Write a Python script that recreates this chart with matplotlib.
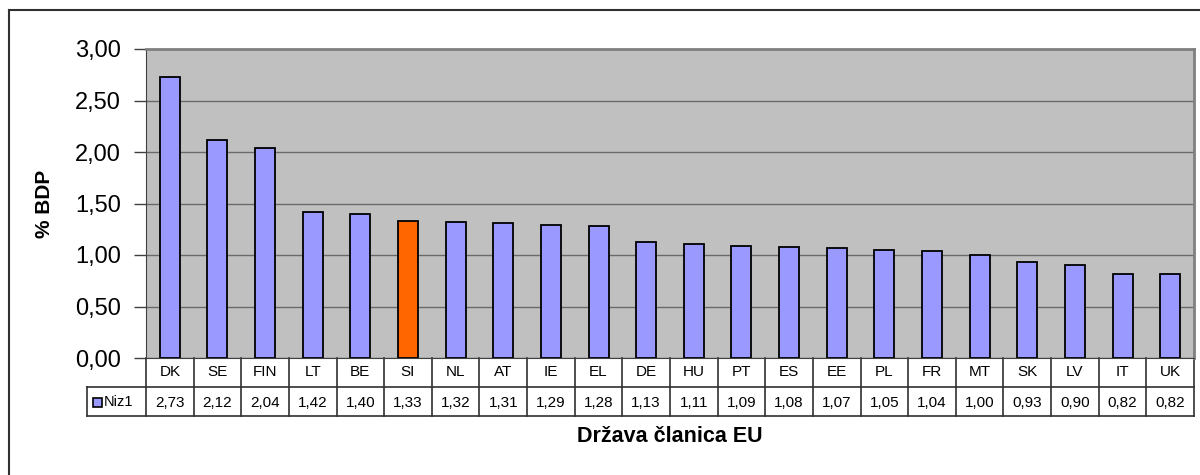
import numpy as np
import matplotlib
matplotlib.use('Agg')
import matplotlib.pyplot as plt
from matplotlib.lines import Line2D
from matplotlib.patches import Rectangle

plt.rcParams['font.family'] = ['Liberation Sans', 'DejaVu Sans']

countries = ['DK', 'SE', 'FIN', 'LT', 'BE', 'SI', 'NL', 'AT', 'IE', 'EL', 'DE',
             'HU', 'PT', 'ES', 'EE', 'PL', 'FR', 'MT', 'SK', 'LV', 'IT', 'UK']
values = [2.73, 2.12, 2.04, 1.42, 1.40, 1.33, 1.32, 1.31, 1.29, 1.28, 1.13,
          1.11, 1.09, 1.08, 1.07, 1.05, 1.04, 1.00, 0.93, 0.90, 0.82, 0.82]
series_name = 'Niz1'
highlight = 'SI'
yticks = [0, 0.5, 1.0, 1.5, 2.0, 2.5, 3.0]

W, H = 1200, 475
fig = plt.figure(figsize=(W / 100, H / 100), dpi=100)

def fx(px):
    return px / W

def fy(py):
    return 1 - py / H

# plot area in pixel coords
left, right, top, bottom = 146, 1194, 49, 358
ax = fig.add_axes([fx(left), fy(bottom), fx(right - left), (bottom - top) / H])
ax.set_facecolor('#C0C0C0')

x = np.arange(len(countries))
colors = ['#FF6600' if c == highlight else '#9999FF' for c in countries]
ax.bar(x, values, width=0.42, color=colors, edgecolor='black', linewidth=1.3, zorder=3)

ax.set_xlim(-0.5, len(countries) - 0.5)
ax.set_ylim(0, 3.0)
ax.set_yticks(yticks)
ax.set_yticklabels([f'{v:.2f}'.replace('.', ',') for v in yticks], fontsize=17)
ax.yaxis.grid(True, color='#6a6a6a', linewidth=1, zorder=1)
ax.set_axisbelow(True)
ax.set_xticks([])
ax.tick_params(axis='y', length=9, width=1, color='#404040', pad=9)

for s in ['top', 'right']:
    ax.spines[s].set_color('#808080')
    ax.spines[s].set_linewidth(2)
ax.spines['left'].set_color('#404040')
ax.spines['bottom'].set_color('#404040')

ax.set_ylabel('% BDP', fontsize=15, fontweight='bold')
ax.yaxis.set_label_coords((54 - left) / (right - left), 0.5)

# data table below the axis
tr = ax.get_xaxis_transform()
row1_h = (387 - bottom) / (bottom - top)
row2_h = (416 - bottom) / (bottom - top)
line_kw = dict(color='#303030', linewidth=1.2, clip_on=False)

for i, (c, v) in enumerate(zip(countries, values)):
    ax.text(i, -row1_h / 2, c, transform=tr, ha='center', va='center', fontsize=11)
    ax.text(i, -(row1_h + row2_h) / 2 - 0.005, f'{v:.2f}'.replace('.', ','), transform=tr,
            ha='center', va='center', fontsize=11)
for b in np.arange(-0.5, len(countries), 1.0):
    ax.add_line(Line2D([b, b], [0, -row2_h], transform=tr, **line_kw))

# horizontal table lines (figure coords)
fig.add_artist(Line2D([fx(87), fx(right)], [fy(387), fy(387)], **line_kw))
fig.add_artist(Line2D([fx(87), fx(right)], [fy(416), fy(416)], **line_kw))
fig.add_artist(Line2D([fx(87), fx(87)], [fy(387), fy(416)], **line_kw))

# legend key in the table
fig.add_artist(Rectangle((fx(93), fy(407)), fx(9), 9 / H, facecolor='#9999FF',
                         edgecolor='black', linewidth=1.2))
fig.text(fx(104), fy(402), series_name, ha='left', va='center', fontsize=10.5)

fig.text(fx(670), fy(437), 'Država članica EU', ha='center', va='center',
         fontsize=15.5, fontweight='bold')

# outer chart border
fig.add_artist(Line2D([fx(9), fx(9)], [fy(10), 0], color='#303030', linewidth=1.5))
fig.add_artist(Line2D([fx(9), 1], [fy(10), fy(10)], color='#303030', linewidth=1.5))

fig.savefig('out.png', dpi=100)
